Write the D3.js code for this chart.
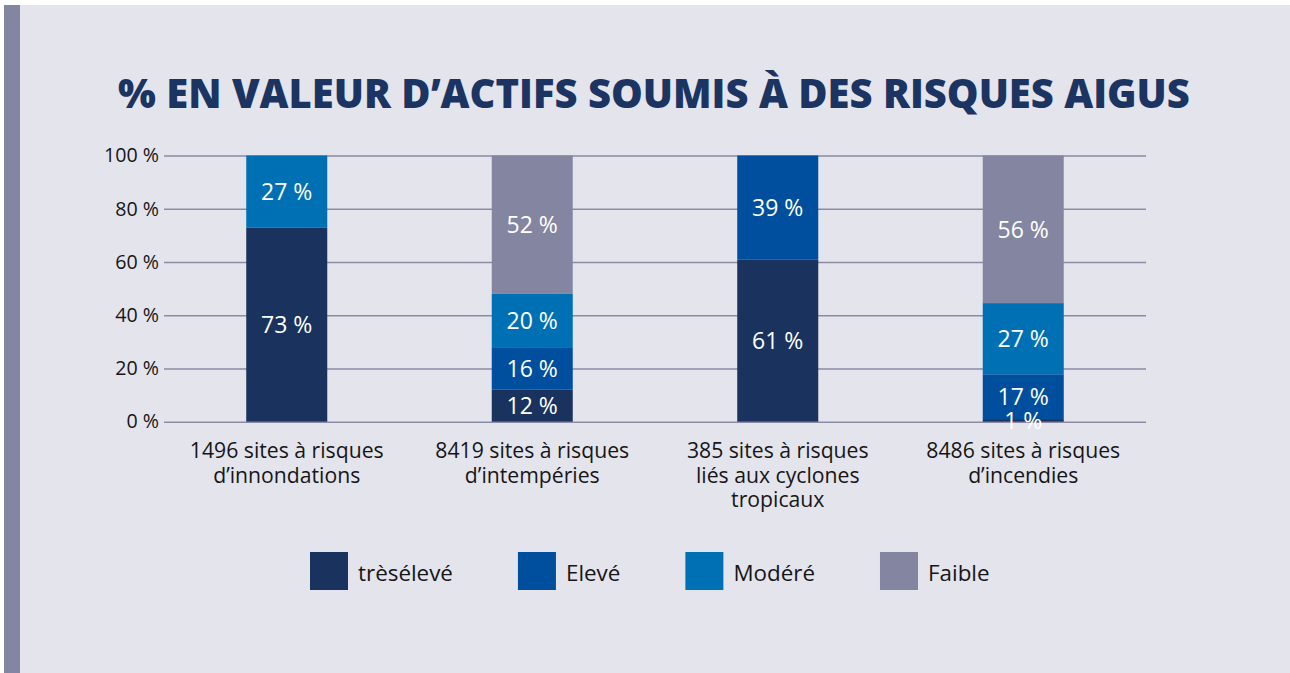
<!DOCTYPE html>
<html>
<head>
<meta charset="utf-8">
<script src="https://cdn.jsdelivr.net/npm/d3@7"></script>
<style>
  html, body { margin: 0; padding: 0; background: #ffffff; }
  svg { display: block; }
  text { font-family: "Open Sans", "Noto Sans", sans-serif; }
</style>
</head>
<body>
<svg id="chart" width="1290" height="673"></svg>
<script>
// ---- Data ----
const categories = [
  ["1496 sites à risques", "d’innondations"],
  ["8419 sites à risques", "d’intempéries"],
  ["385 sites à risques", "liés aux cyclones", "tropicaux"],
  ["8486 sites à risques", "d’incendies"]
];
const seriesNames = ["trèsélevé", "Elevé", "Modéré", "Faible"];
const tresEleve = [73, 12, 61, 1];
const eleve     = [0, 16, 39, 17];
const modere    = [27, 20, 0, 27];
const faible    = [0, 52, 0, 56];
const yTicks = [0, 20, 40, 60, 80, 100];
const titleText = "% EN VALEUR D’ACTIFS SOUMIS À DES RISQUES AIGUS";

const colors = ["#19335e", "#004f9e", "#0070b4", "#8486a1"];

// ---- Build table ----
const keys = ["s0", "s1", "s2", "s3"];
const table = categories.map((c, i) => ({
  idx: i, s0: tresEleve[i], s1: eleve[i], s2: modere[i], s3: faible[i]
}));

const svg = d3.select("#chart");

// font size that makes a sample string reach a target width
function fitSize(sample, targetW, weight) {
  const t = svg.append("text").style("font-size", "20px").style("font-weight", weight || 400).text(sample);
  const w = t.node().getComputedTextLength();
  t.remove();
  return 20 * targetW / w;
}
const tickFs = fitSize("100 %", 55);
const valFs = Math.min(fitSize("27 %", 52), 23);
const catFs = fitSize("1496 sites à risques", 194);
const legFs = fitSize("trèsélevé", 95);

// panel background
svg.append("rect").attr("x", 4).attr("y", 5).attr("width", 1286).attr("height", 668).attr("fill", "#e4e4ed");
svg.append("rect").attr("x", 4).attr("y", 5).attr("width", 16).attr("height", 668).attr("fill", "#8386a2");

// title
const title = svg.append("text")
  .attr("x", 654).attr("y", 108)
  .attr("text-anchor", "middle")
  .attr("fill", "#1b3461")
  .style("font-weight", 800)
  .style("font-size", "42px")
  .text(titleText);
{
  const w = title.node().getComputedTextLength();
  title.style("font-size", (42 * 1072 / w).toFixed(2) + "px");
}

// scales
const x = d3.scaleBand().domain(d3.range(categories.length)).range([164, 1146]).paddingInner(0.67).paddingOuter(0.335);
const y = d3.scaleLinear().domain([0, 1]).range([421.7, 155.5]);

// gridlines + tick labels
const yAxis = d3.axisLeft(y)
  .tickValues(yTicks.map(v => v / 100))
  .tickSize(-(1146 - 164))
  .tickPadding(5)
  .tickFormat(d => Math.round(d * 100) + " %");
const gAxis = svg.append("g").attr("transform", "translate(164,0)").call(yAxis);
gAxis.select(".domain").remove();
gAxis.selectAll(".tick line").attr("stroke", "#8a8ba6").attr("stroke-width", 1.5);
gAxis.selectAll(".tick text")
  .attr("fill", "#161616")
  .style("font-size", tickFs + "px")
  .style("font-family", "'Open Sans', sans-serif");

// stack
const stack = d3.stack().keys(keys).offset(d3.stackOffsetExpand);
const series = stack(table);

const gBars = svg.append("g");
series.forEach((s, si) => {
  const g = gBars.append("g").attr("fill", colors[si]);
  g.selectAll("rect").data(s.filter(d => d.data[keys[si]] > 0)).join("rect")
    .attr("x", d => x(d.data.idx))
    .attr("width", x.bandwidth())
    .attr("y", d => y(d[1]))
    .attr("height", d => y(d[0]) - y(d[1]));
});
// value labels
series.forEach((s, si) => {
  svg.append("g").selectAll("text").data(s.filter(d => d.data[keys[si]] > 0)).join("text")
    .attr("x", d => x(d.data.idx) + x.bandwidth() / 2)
    .attr("y", d => (y(d[0]) + y(d[1])) / 2)
    .attr("dy", "0.36em")
    .attr("text-anchor", "middle")
    .attr("fill", "#ffffff")
    .style("font-size", valFs + "px")
    .text(d => d.data[keys[si]] + " %");
});

// category labels (one text per line)
categories.forEach((lines, i) => {
  const cx = x(i) + x.bandwidth() / 2;
  lines.forEach((ln, j) => {
    svg.append("text")
      .attr("x", cx)
      .attr("y", 458 + j * 24.5)
      .attr("text-anchor", "middle")
      .attr("fill", "#161616")
      .style("font-size", catFs + "px")
      .text(ln);
  });
});

// legend
const legend = svg.append("g");
let lx = 310;
seriesNames.forEach((name, i) => {
  legend.append("rect").attr("x", lx).attr("y", 552).attr("width", 38).attr("height", 38).attr("fill", colors[i]);
  const t = legend.append("text").attr("x", lx + 48).attr("y", 581)
    .attr("fill", "#161616").style("font-size", legFs + "px").text(name);
  lx = lx + 48 + t.node().getComputedTextLength() + 65;
});
</script>
</body>
</html>
